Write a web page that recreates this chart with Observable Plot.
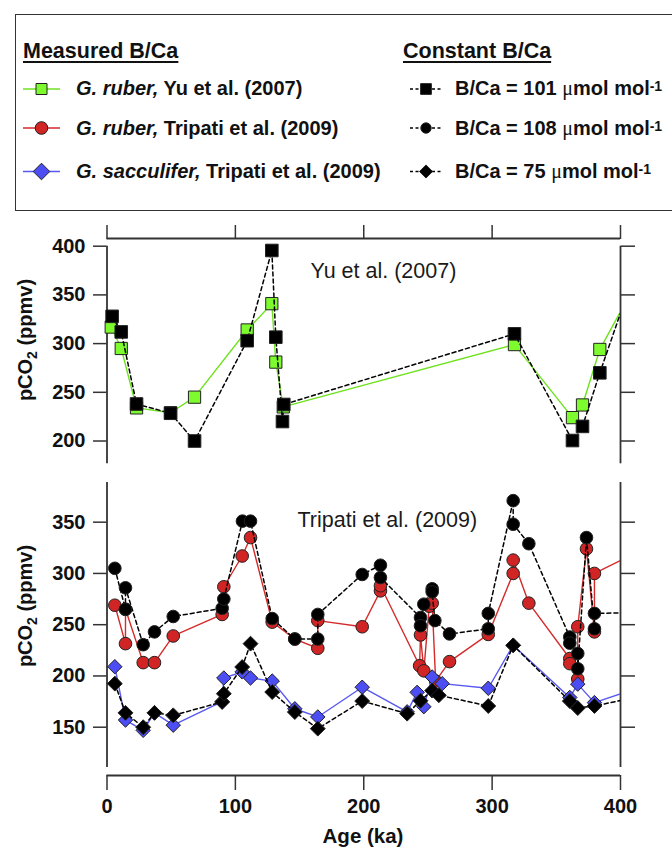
<!DOCTYPE html>
<html><head><meta charset="utf-8">
<script src="https://cdn.jsdelivr.net/npm/d3@7"></script>
<script src="https://cdn.jsdelivr.net/npm/@observablehq/plot@0.6"></script>
<style>
body{margin:0;background:#fff;}
#wrap{position:relative;width:672px;height:848px;overflow:hidden;font-family:"Liberation Sans",Arial,sans-serif;color:#111;}
#legendBox{position:absolute;left:15px;top:14px;width:720px;height:197px;border:1.6px solid #333;box-sizing:border-box;}
.lt{position:absolute;font-size:20px;font-weight:bold;line-height:20px;white-space:nowrap;}
.hd{font-size:21.5px;text-decoration:underline;text-decoration-thickness:2px;text-underline-offset:3px;}
.mu{font-family:"Liberation Serif","DejaVu Serif",serif;font-weight:normal;}
.lt sup{font-size:14px;position:relative;top:-2px;vertical-align:top;}
.plot{position:absolute;left:0;}
.ylab{position:absolute;font-size:20px;font-weight:bold;white-space:nowrap;transform:translate(-50%,-50%) rotate(-90deg);}
.ylab sub{font-size:14px;}
#xlab{position:absolute;left:363px;top:836px;transform:translate(-50%,-50%);font-size:20.5px;font-weight:bold;}
</style></head>
<body>
<div id="wrap">
  <div id="legendBox"></div>
  <svg id="glyphs" width="672" height="215" style="position:absolute;left:0;top:0"></svg>
  <div class="lt hd" style="left:23px;top:41px">Measured B/Ca</div>
  <div class="lt hd" style="left:403px;top:41px">Constant B/Ca</div>
  <div class="lt" style="left:76px;top:78px"><i>G. ruber,</i> Yu et al. (2007)</div>
  <div class="lt" style="left:76px;top:118px"><i>G. ruber,</i> Tripati et al. (2009)</div>
  <div class="lt" style="left:76px;top:161px"><i>G. sacculifer,</i> Tripati et al. (2009)</div>
  <div class="lt" style="left:455px;top:78px">B/Ca = 101 <span class="mu">μ</span>mol mol<sup>-1</sup></div>
  <div class="lt" style="left:455px;top:118px">B/Ca = 108 <span class="mu">μ</span>mol mol<sup>-1</sup></div>
  <div class="lt" style="left:455px;top:161px">B/Ca = 75 <span class="mu">μ</span>mol mol<sup>-1</sup></div>
  <div id="topPlot" class="plot" style="top:220px"></div>
  <div id="botPlot" class="plot" style="top:478px"></div>
  <div class="ylab" style="left:27px;top:340px">pCO<sub>2</sub> (ppmv)</div>
  <div class="ylab" style="left:27px;top:606px">pCO<sub>2</sub> (ppmv)</div>
  <div id="xlab">Age (ka)</div>
</div>
<script>
// ---------- data ----------
const xTicks = [0, 100, 200, 300, 400];
const topYTicks = [200, 250, 300, 350, 400];
const botYTicks = [150, 200, 250, 300, 350];

// Top panel: Yu et al. (2007)
const topAgeRuber = [3.3, 11.1, 23, 49.5, 68.2, 109.2, 128.4, 131.5, 137.3, 317.4, 362.6, 370.4, 383.9, 412];
const topCO2Ruber = [317, 295, 234, 229, 245, 314, 341, 281, 235, 299, 224, 237, 294, 362];
const topAgeConst101 = [4.0, 11.1, 23, 49.5, 68.2, 109.2, 128.4, 131.5, 136.7, 137.7, 317.4, 362.6, 370.4, 383.9, 412];
const topCO2Const101 = [328, 312, 238, 228.5, 200, 303, 395.6, 306.6, 220, 237.5, 310, 200.5, 215, 270, 377];

// Bottom panel: Tripati et al. (2009)
const botAgeRuber = [6.1, 14.4, 14.4, 28.2, 37, 51.6, 89.7, 91, 105.3, 111.8, 128.7, 146.3, 164.2, 164.2, 198.8, 213, 213, 243.5, 244.2, 246.8, 251, 253.3, 256, 266.8, 297, 316.4, 316.4, 328.6, 360.5, 360.5, 366.7, 366.7, 373.5, 379.7, 379.7, 415];
const botCO2Ruber = [269, 231.5, 265, 213, 213, 239, 260, 287, 317, 335, 252.5, 236, 227, 254, 248, 283, 288, 210, 240, 205, 268, 271, 195, 214, 240.5, 300, 313, 271, 217, 212, 197, 248, 324, 243, 300, 322];
const botAgeConst108 = [6.1, 14.4, 14.4, 28.2, 37, 51.6, 89.7, 91, 105.5, 111.8, 128.7, 146.3, 164.2, 164.2, 198.8, 213, 213, 244.2, 244.2, 246.8, 253.3, 253.3, 255.4, 266.8, 297, 297, 316.4, 316.4, 328.6, 360.5, 360.5, 366.7, 366.7, 373.5, 379.7, 379.7, 415];
const botCO2Const108 = [305, 265, 286, 230.5, 243, 258, 266, 275, 351, 351, 256, 236, 236, 260, 299, 308, 296, 257, 249, 270, 285, 282, 254, 241, 246, 261, 371, 348, 329, 238, 232, 222, 207, 335, 246, 261, 262];
const botAgeSacc = [6.1, 14.4, 28.2, 37, 51.6, 89.7, 91, 105.3, 111.8, 128.7, 146.3, 164.2, 198.8, 233.8, 241.6, 246.8, 253.3, 261.1, 297, 316.4, 360.5, 366.7, 379.7, 415];
const botCO2Sacc = [209, 157, 147, 164, 152, 175, 198, 204, 198, 195, 168, 160, 189, 165, 184, 170, 199, 192.5, 188, 230, 179, 192, 174, 189];
const botAgeConst75 = [6.1, 14.4, 28.2, 37, 51.6, 89.7, 91, 105.3, 111.8, 128.7, 146.3, 164.2, 198.8, 233.8, 244.2, 253.3, 258.5, 297, 316.4, 360.5, 366.7, 379.7, 415];
const botCO2Const75 = [192.5, 164, 150, 164, 161.6, 174.6, 182.7, 208.7, 231.5, 184.3, 164.8, 148.6, 175.5, 163.2, 175.8, 185.7, 181.2, 170.7, 229.8, 175.5, 168.7, 170.7, 180];

const topYDomain = [176.6, 400];
const botYDomain = [110.7, 388.7];
const xDomain = [0, 400];

// ---------- styles ----------
const GREEN_FILL = "#7dfb2e", GREEN_LINE = "#6fe21f";
const RED_FILL = "#d12525", RED_LINE = "#d42a2a";
const BLUE_FILL = "#4d4df4", BLUE_LINE = "#5858f2";
const AX = "#333";
const DASH = "4,3";

const zip = (a, v) => a.map((age, i) => ({age, co2: v[i]}));
const inRange = d => d.age >= xDomain[0] && d.age <= xDomain[1];

const topRuber = zip(topAgeRuber, topCO2Ruber);
const top101 = zip(topAgeConst101, topCO2Const101);
const botRuber = zip(botAgeRuber, botCO2Ruber);
const bot108 = zip(botAgeConst108, botCO2Const108);
const botSacc = zip(botAgeSacc, botCO2Sacc);
const bot75 = zip(botAgeConst75, botCO2Const75);

const common = {
  width: 672, marginLeft: 106.5, marginRight: 52,
  x: {domain: xDomain},
  style: {fontFamily: "'Liberation Sans', Arial, sans-serif", fontSize: "20px", overflow: "visible", background: "transparent", color: "#111"}
};

const topChart = Plot.plot({
  ...common,
  height: 250, marginTop: 18, marginBottom: 6.7,
  y: {domain: topYDomain, insetTop: 7.7},
  marks: [
    Plot.ruleY([topYDomain[1]], {x1: xDomain[0], x2: xDomain[1], dy: -7.7, stroke: AX, strokeWidth: 1.8}),
    Plot.axisX({anchor: "top", ticks: xTicks, tickSize: 14, tickFormat: () => "", label: null, stroke: AX, strokeWidth: 1.5}),
    Plot.ruleX([xDomain[0], xDomain[1]], {y1: topYDomain[0], y2: topYDomain[1], stroke: AX, strokeWidth: 1.8}),
    Plot.axisY({anchor: "left", ticks: topYTicks, tickSize: 13.5, tickPadding: 8, fontWeight: "bold", fontSize: 20, label: null, stroke: AX, strokeWidth: 1.5}),
    Plot.axisY({anchor: "right", ticks: topYTicks, tickSize: 14, tickFormat: () => "", label: null, stroke: AX, strokeWidth: 1.5}),
    Plot.text(["Yu et al. (2007)"], {frameAnchor: "top-left", dx: 203.5, dy: 24.5, textAnchor: "start", fontSize: 21.5, fill: "#1a1a1a"}),
    Plot.line(topRuber, {x: "age", y: "co2", stroke: GREEN_LINE, strokeWidth: 1.4, clip: true}),
    Plot.dot(topRuber.filter(inRange), {x: "age", y: "co2", symbol: "square", r: 6.9, fill: GREEN_FILL, stroke: "#222", strokeWidth: 1}),
    Plot.line(top101, {x: "age", y: "co2", stroke: "#000", strokeWidth: 1.5, strokeDasharray: DASH, clip: true}),
    Plot.dot(top101.filter(inRange), {x: "age", y: "co2", symbol: "square", r: 7.1, fill: "#000", stroke: "#222", strokeWidth: 1})
  ]
});
document.getElementById("topPlot").appendChild(topChart);

const botChart = Plot.plot({
  ...common,
  height: 370, marginTop: 4, marginBottom: 73,
  y: {domain: botYDomain, insetBottom: 8},
  marks: [
    Plot.ruleY([botYDomain[0]], {x1: xDomain[0], x2: xDomain[1], dy: 8, stroke: AX, strokeWidth: 1.8}),
    Plot.axisX({anchor: "bottom", ticks: xTicks, tickSize: 15, tickPadding: 8, fontWeight: "bold", fontSize: 20, label: null, stroke: AX, strokeWidth: 1.5}),
    Plot.ruleX([xDomain[0], xDomain[1]], {y1: botYDomain[0], y2: botYDomain[1], stroke: AX, strokeWidth: 1.8}),
    Plot.axisY({anchor: "left", ticks: botYTicks, tickSize: 13.5, tickPadding: 8, fontWeight: "bold", fontSize: 20, label: null, stroke: AX, strokeWidth: 1.5}),
    Plot.axisY({anchor: "right", ticks: botYTicks, tickSize: 14, tickFormat: () => "", label: null, stroke: AX, strokeWidth: 1.5}),
    Plot.text(["Tripati et al. (2009)"], {frameAnchor: "top-left", dx: 190.5, dy: 29.7, textAnchor: "start", fontSize: 21.5, fill: "#1a1a1a"}),
    Plot.line(botRuber, {x: "age", y: "co2", stroke: RED_LINE, strokeWidth: 1.4, clip: true}),
    Plot.dot(botRuber.filter(inRange), {x: "age", y: "co2", symbol: "circle", r: 6.3, fill: RED_FILL, stroke: "#222", strokeWidth: 1}),
    Plot.line(botSacc, {x: "age", y: "co2", stroke: BLUE_LINE, strokeWidth: 1.4, clip: true}),
    Plot.dot(botSacc.filter(inRange), {x: "age", y: "co2", symbol: "diamond2", r: 6.5, fill: BLUE_FILL, stroke: "#222", strokeWidth: 1}),
    Plot.line(bot108, {x: "age", y: "co2", stroke: "#000", strokeWidth: 1.5, strokeDasharray: DASH, clip: true}),
    Plot.line(bot75, {x: "age", y: "co2", stroke: "#000", strokeWidth: 1.5, strokeDasharray: DASH, clip: true}),
    Plot.dot(bot108.filter(inRange), {x: "age", y: "co2", symbol: "circle", r: 6.3, fill: "#000", stroke: "#222", strokeWidth: 1}),
    Plot.dot(bot75.filter(inRange), {x: "age", y: "co2", symbol: "diamond2", r: 6.7, fill: "#000", stroke: "#222", strokeWidth: 1})
  ]
});
document.getElementById("botPlot").appendChild(botChart);

// ---------- legend glyphs ----------
const g = d3.select("#glyphs");
function glyph(x1, x2, cy, line, dash, sym, size, fill) {
  g.append("line").attr("x1", x1).attr("x2", x2).attr("y1", cy).attr("y2", cy)
    .attr("stroke", line).attr("stroke-width", dash ? 1.3 : 1.4).attr("stroke-dasharray", dash ? "3,2.5" : null);
  g.append("path").attr("d", d3.symbol(sym, size)()).attr("transform", `translate(${(x1 + x2) / 2},${cy})`)
    .attr("fill", fill).attr("stroke", "#222").attr("stroke-width", 1);
}
glyph(23, 60, 89, GREEN_LINE, false, d3.symbolSquare, 121, GREEN_FILL);
glyph(23, 60, 128, RED_LINE, false, d3.symbolCircle, 125, RED_FILL);
glyph(23, 60, 171.5, BLUE_LINE, false, d3.symbolDiamond2, 175, BLUE_FILL);
glyph(410, 442, 89, "#000", true, d3.symbolSquare, 115, "#000");
glyph(410, 442, 128, "#000", true, d3.symbolCircle, 85, "#000");
glyph(410, 442, 171.5, "#000", true, d3.symbolDiamond2, 110, "#000");
</script>
</body></html>
